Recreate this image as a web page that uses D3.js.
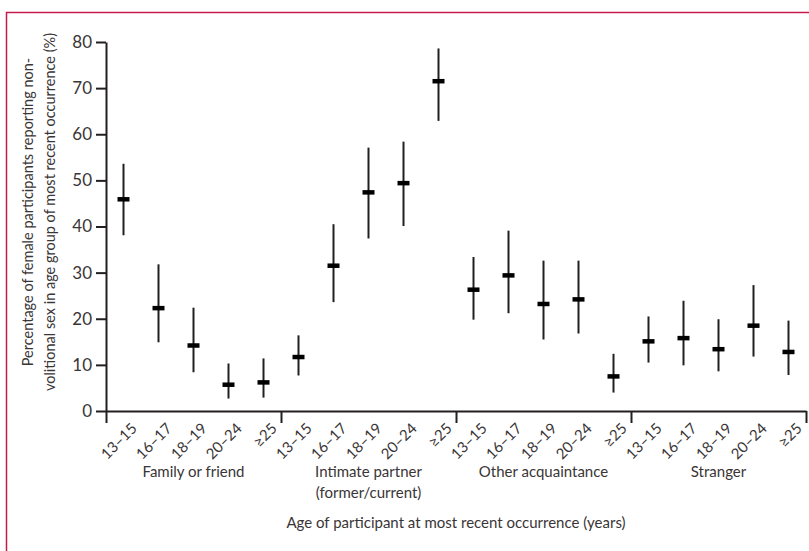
<!DOCTYPE html>
<html>
<head>
<meta charset="utf-8">
<script src="https://cdn.jsdelivr.net/npm/d3@7"></script>
<style>
  body { margin: 0; background: #fff; }
  svg text { font-family: Lato, "Liberation Sans", sans-serif; fill: #3a3536; }
</style>
</head>
<body>
<div id="chart"></div>
<script>
// perpetrator groups and age bands
var groups = ["Family or friend", "Intimate partner|(former/current)", "Other acquaintance", "Stranger"];
var ages = ["13\u201315", "16\u201317", "18\u201319", "20\u201324", "\u226525"];
// point estimates and 95% CI, one row per group, in ages order
var estimate = [
    [45.9, 22.3, 14.2, 5.7, 6.2],
    [11.7, 31.5, 47.4, 49.4, 71.5],
    [26.3, 29.4, 23.2, 24.2, 7.5],
    [15.1, 15.8, 13.4, 18.5, 12.8]
];
var lower = [
    [38.1, 14.9, 8.4, 2.7, 2.9],
    [7.7, 23.6, 37.4, 40.1, 62.9],
    [19.8, 21.2, 15.5, 16.8, 4.0],
    [10.5, 9.9, 8.6, 11.8, 7.8]
];
var upper = [
    [53.6, 31.8, 22.4, 10.3, 11.4],
    [16.4, 40.5, 57.1, 58.4, 78.6],
    [33.4, 39.1, 32.6, 32.6, 12.4],
    [20.5, 23.9, 19.9, 27.3, 19.6]
];
var yTicks = [0, 10, 20, 30, 40, 50, 60, 70, 80];

var W = 809, H = 551;
var plotL = 106, plotR = 806, plotT = 42, plotB = 411;
var ink = "#231f20";

var svg = d3.select("#chart").append("svg").attr("width", W).attr("height", H);

// frame (top and left only, as cropped)
svg.append("path")
    .attr("d", "M6.5," + H + "V12.5H" + W)
    .attr("fill", "none").attr("stroke", "#c8194b").attr("stroke-width", 1.5);

// flatten data
var data = [];
groups.forEach(function (g, gi) {
    ages.forEach(function (a, ai) {
        data.push({ key: gi + "_" + ai, age: a, est: estimate[gi][ai], lo: lower[gi][ai], hi: upper[gi][ai] });
    });
});

var x = d3.scaleBand().domain(data.map(function (d) { return d.key; })).range([plotL, plotR]).padding(0);
var xg = d3.scaleBand().domain(groups).range([plotL, plotR]).padding(0);
var xb = d3.scaleLinear().domain([0, groups.length]).range([plotL, plotR]);
var y = d3.scaleLinear().domain([0, 80]).range([plotB, plotT]);

// y axis
var gy = svg.append("g").attr("transform", "translate(" + plotL + ",0)")
    .call(d3.axisLeft(y).tickValues(yTicks).tickSize(10).tickSizeOuter(0).tickPadding(4));
gy.select(".domain").attr("stroke", ink).attr("stroke-width", 2);
gy.selectAll(".tick line").attr("stroke", ink).attr("stroke-width", 2);
gy.selectAll(".tick text").attr("font-size", 17).attr("fill", "#3a3536").attr("font-family", "Lato");

// x axis with group boundary ticks
var gx = svg.append("g").attr("transform", "translate(0," + plotB + ")")
    .call(d3.axisBottom(xb).tickValues(d3.range(groups.length + 1)).tickSize(12).tickSizeOuter(0).tickFormat(""));
gx.select(".domain").attr("stroke", ink).attr("stroke-width", 2);
gx.selectAll(".tick line").attr("stroke", ink).attr("stroke-width", 2);

// age labels, rotated
svg.append("g").selectAll("text").data(data).join("text")
    .attr("transform", function (d) {
        return "translate(" + (x(d.key) + x.bandwidth() / 2 + 7) + "," + (plotB + 11) + ") rotate(-45)";
    })
    .attr("text-anchor", "end").attr("dy", "0.7em")
    .attr("font-size", 15)
    .text(function (d) { return d.age; });

// group labels
svg.append("g").selectAll("text").data(groups).join("text")
    .attr("x", function (d) { return xg(d) + xg.bandwidth() / 2; })
    .attr("y", 477)
    .attr("text-anchor", "middle").attr("font-size", 15)
    .each(function (d) {
        var t = d3.select(this);
        d.split("|").forEach(function (line, i) {
            t.append("tspan").attr("x", xg(d) + xg.bandwidth() / 2).attr("dy", i ? 21 : 0).text(line);
        });
    });

// axis titles
svg.append("text")
    .attr("x", (plotL + plotR) / 2).attr("y", 528)
    .attr("text-anchor", "middle").attr("font-size", 15)
    .text("Age of participant at most recent occurrence (years)");

var yt = svg.append("text")
    .attr("transform", "translate(0,212) rotate(-90)")
    .attr("text-anchor", "middle").attr("font-size", 14.5);
yt.append("tspan").attr("x", 0).attr("y", 33).text("Percentage of female participants reporting non-");
yt.append("tspan").attr("x", 0).attr("y", 55).text("volitional sex in age group of most recent occurrence (%)");

// error bars
var marks = svg.append("g");
marks.selectAll("line").data(data).join("line")
    .attr("x1", function (d) { return x(d.key) + x.bandwidth() / 2; })
    .attr("x2", function (d) { return x(d.key) + x.bandwidth() / 2; })
    .attr("y1", function (d) { return y(d.lo); })
    .attr("y2", function (d) { return y(d.hi); })
    .attr("stroke", ink).attr("stroke-width", 2);

marks.selectAll("rect").data(data).join("rect")
    .attr("x", function (d) { return x(d.key) + x.bandwidth() / 2 - 6; })
    .attr("y", function (d) { return y(d.est) - 2.25; })
    .attr("width", 12).attr("height", 4.5)
    .attr("fill", "#000");
</script>
</body>
</html>
